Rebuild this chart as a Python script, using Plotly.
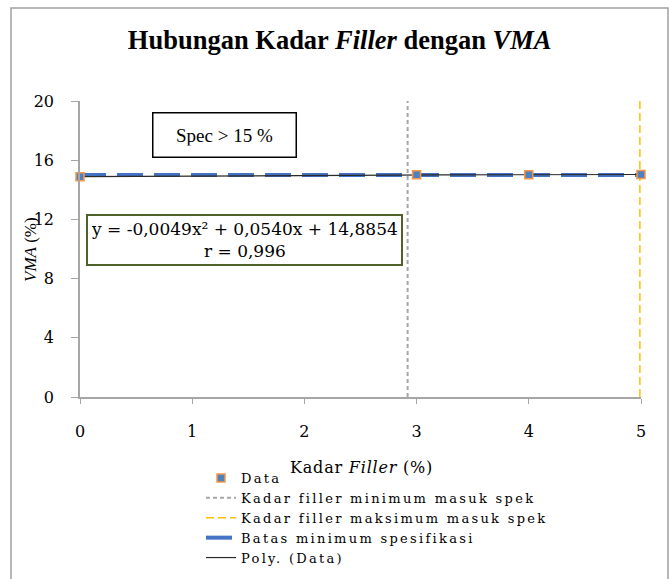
import numpy as np
import plotly.graph_objects as go

# Data
filler_x = [0, 3, 4, 5]
vma_y = [14.88, 15.01, 15.02, 15.03]
poly_coef = [-0.0049, 0.0540, 14.8854]
spec_min_vma = 15
filler_min = 2.92
filler_max = 4.99
x_ticks = [0, 1, 2, 3, 4, 5]
y_ticks = [0, 4, 8, 12, 16, 20]

SERIF = "DejaVu Serif"
TIMES = "Liberation Serif"
AXC = "#a6a6a6"

# plot area pixel geometry
L, R, T, B = 80, 641, 101, 397
W, H = R - L, B - T


def px(x):
    return (x - L) / W


def py(y):
    return (B - y) / H


def sp(t, s=2.3):
    return f'<span style="letter-spacing:{s}px">{t}</span>'


fig = go.Figure()

fig.add_trace(go.Scatter(
    x=[filler_min, filler_min], y=[0, 20], mode="lines",
    name=sp("Kadar filler minimum masuk spek"), legendrank=2,
    line=dict(color="#a6a6a6", width=2, dash="4px,3px"),
))
fig.add_trace(go.Scatter(
    x=[filler_max, filler_max], y=[0, 20], mode="lines",
    name=sp("Kadar filler maksimum masuk spek"), legendrank=3,
    line=dict(color="#ffc000", width=1.5, dash="8px,4px"),
))
fig.add_trace(go.Scatter(
    x=[0, 5], y=[spec_min_vma, spec_min_vma], mode="lines",
    name=sp("Batas minimum spesifikasi"), legendrank=4,
    line=dict(color="#4472c4", width=4, dash="26px,11px"),
))
xs = np.linspace(0, 5, 101)
fig.add_trace(go.Scatter(
    x=xs, y=np.polyval(poly_coef, xs), mode="lines",
    name=sp("Poly. (Data)"), legendrank=5,
    line=dict(color="#2a2a2a", width=1.2),
))
fig.add_trace(go.Scatter(
    x=filler_x, y=vma_y, mode="markers", name=sp("Data"), legendrank=1,
    marker=dict(symbol="square", size=8, color="#4f81bd",
                line=dict(color="#f79646", width=1.5)),
    cliponaxis=False,
))

fig.update_layout(
    width=670, height=579,
    margin=dict(l=L, r=670 - R, t=T, b=579 - B, autoexpand=False),
    paper_bgcolor="white", plot_bgcolor="white",
    title=dict(text="Hubungan Kadar <i>Filler</i> dengan <i>VMA</i>",
               x=0.507, xref="container", xanchor="center",
               y=1 - 40 / 579, yref="container", yanchor="middle",
               font=dict(family=TIMES, size=26.5, color="black", weight="bold")),
    showlegend=True,
    legend=dict(
        x=px(201), xanchor="left", xref="paper",
        y=py(463), yanchor="top", yref="paper",
        font=dict(family=SERIF, size=13, color="black"),
        bgcolor="rgba(0,0,0,0)", borderwidth=0,
        tracegroupgap=0, itemwidth=30,
        traceorder="normal",
    ),
    xaxis=dict(range=[0, 5], tickvals=x_ticks, showgrid=False, zeroline=False,
               showline=True, linecolor=AXC, linewidth=1.5,
               ticks="outside", ticklen=5, tickcolor=AXC,
               tickfont=dict(family=SERIF, size=16, color="black"),
               ticklabelstandoff=14, automargin=False,
               title=dict(text="")),
    yaxis=dict(range=[0, 20], tickvals=y_ticks, showgrid=False, zeroline=False,
               showline=True, linecolor=AXC, linewidth=1.5,
               ticks="outside", ticklen=7, tickcolor=AXC,
               tickfont=dict(family=SERIF, size=16, color="black"),
               ticklabelstandoff=14, automargin=False,
               title=dict(text="")),
    shapes=[
        dict(type="rect", xref="paper", yref="paper",
             x0=px(11), x1=px(668), y0=py(600), y1=py(8),
             line=dict(color="#a0a0a0", width=1.5), layer="below"),
    ],
    annotations=[
        dict(text=sp("Kadar <i>Filler</i> (%)", 0.8), xref="paper", yref="paper",
             x=px(288), y=py(467), xanchor="left", yanchor="middle",
             showarrow=False,
             font=dict(family=SERIF, size=16, color="black")),
        dict(text="<i>VMA</i> (%)", xref="paper", yref="paper",
             x=px(30), y=py(250), xanchor="center", yanchor="middle",
             showarrow=False, textangle=-90,
             font=dict(family=TIMES, size=17, color="black")),
        dict(text="Spec > 15 %", xref="paper", yref="paper",
             x=px(224.5), y=py(134.5),
             xanchor="center", yanchor="middle", showarrow=False,
             font=dict(family=TIMES, size=19, color="black"),
             bordercolor="black", borderwidth=1.5, borderpad=11,
             bgcolor="white", width=120),
        dict(text="y = -0,0049x² + 0,0540x + 14,8854<br>r = 0,996",
             xref="paper", yref="paper",
             x=px(244), y=py(240),
             xanchor="center", yanchor="middle", showarrow=False,
             font=dict(family=SERIF, size=17, color="black"),
             bordercolor="#4f6228", borderwidth=2, borderpad=3,
             bgcolor="white", align="center"),
    ],
)

fig.write_html("out.html", config={"displayModeBar": False},
               post_script="document.body.style.margin='0';")
